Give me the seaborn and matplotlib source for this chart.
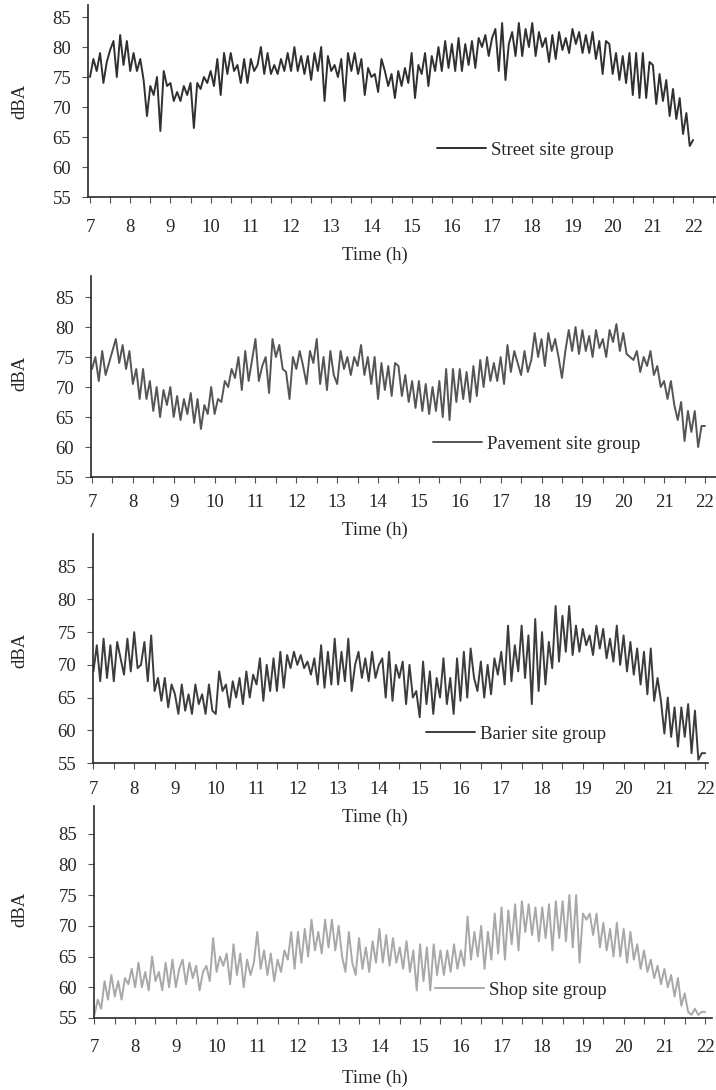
import numpy as np
import pandas as pd
import seaborn as sns
import matplotlib.pyplot as plt
from matplotlib.ticker import MultipleLocator

# Noise levels (dBA), every 5 minutes from 7:00 to 22:00
street = [
    75, 78, 76, 79, 74, 77.5, 79.5, 81, 75, 82, 77, 81,
    76, 79, 76, 78, 74.5, 68.5, 73.5, 72, 75, 66, 76, 73.5,
    74, 71, 72.5, 71, 73.5, 72, 74, 66.5, 74, 73, 75, 74,
    76, 73.5, 78, 72, 79, 75.5, 79, 76, 77, 74, 78, 74,
    78, 76, 77, 80, 75.5, 79, 75.5, 77, 75.5, 78, 76, 79,
    76, 80, 76, 78.5, 75.5, 78.5, 74.5, 79, 76, 80, 71, 78.5,
    76, 77, 75, 78, 71, 79, 76, 79, 75.5, 78, 72, 76.5,
    75, 75.5, 72.5, 78, 76, 73.5, 75.5, 71.5, 76, 73.5, 76.5, 74,
    79, 71.5, 77, 75.5, 79, 73.5, 78.5, 76, 80, 76, 81, 76.5,
    80.5, 76, 81.5, 76, 80.5, 77, 81, 76.5, 81.5, 80, 82, 78.5,
    81.5, 83, 76, 84, 74.5, 80.5, 82.5, 78.5, 84, 78.5, 83, 80,
    84, 78.5, 82.5, 80, 81.5, 77.5, 82, 78, 82.5, 79.5, 81.5, 79,
    83, 80.5, 82.5, 79, 82, 79, 82.5, 78, 81, 75.5, 81, 80.5,
    75.5, 79, 74.5, 78.5, 74, 79, 72, 79, 71.5, 79, 71.5, 77.5,
    77, 70.5, 75.5, 71, 74.5, 68.5, 73, 68, 71.5, 65.5, 69, 63.5,
    64.5,
]
pavement = [
    73, 75, 71, 76, 72, 74, 76, 78, 74, 77, 73, 76,
    70.5, 73, 68, 73, 68, 71, 66, 70, 65, 69.5, 67, 70,
    65, 68.5, 64.5, 68, 65.5, 69, 64, 68, 63, 67, 65.5, 70,
    65.5, 68, 67.5, 71, 70, 73, 71.5, 75, 69.5, 76, 71, 74.5,
    78, 71, 73.5, 75, 69, 78, 75, 77, 73, 72.5, 68, 75,
    73, 76, 73.5, 70.5, 76, 74, 78, 70.5, 75, 69.5, 76, 72,
    70.5, 76, 73, 75, 72, 75, 73.5, 77, 72, 75, 70.5, 75,
    68, 74, 69.5, 73.5, 68.5, 74, 73.5, 68.5, 72, 67.5, 71, 66.5,
    71, 66, 70.5, 65.5, 70, 66, 71, 65, 73, 64.5, 73, 67.5,
    73, 68, 72.5, 67.5, 73.5, 68.5, 74.5, 70, 75, 71, 74, 71,
    75, 70.5, 77, 72.5, 76, 74, 72, 76, 72.5, 74.5, 79, 75,
    78, 73.5, 79, 76, 78, 75, 71.5, 76, 79.5, 76, 80, 75.5,
    79.5, 76, 78.5, 75, 79.5, 76.5, 78, 75, 79.5, 77.5, 80.5, 76,
    79, 75.5, 75, 74.5, 76, 72.5, 75, 73.5, 76, 72, 73.5, 70,
    71, 68, 71, 67, 64.5, 67.5, 61, 66, 62.5, 66, 60, 63.5,
    63.5,
]
barier = [
    69, 73, 67.5, 74, 68, 73, 67.5, 73.5, 71, 68.5, 74, 69,
    75, 69.5, 70, 73.5, 67.5, 74.5, 66, 68, 64.5, 68, 63.5, 67,
    65.5, 62.5, 67, 63, 65.5, 62.5, 67, 64, 65.5, 62.5, 67, 63,
    62.5, 69, 66, 67, 63.5, 67.5, 65, 68, 64, 69, 65, 68.5,
    67, 71, 64.5, 70, 66, 71, 66, 72, 66.5, 71.5, 69.5, 72,
    70, 71.5, 69.5, 70.5, 68.5, 71, 67, 73, 66.5, 72, 67, 74,
    67, 72, 67.5, 74, 66, 70, 72, 68, 71, 67.5, 72, 68,
    70, 71, 65, 72, 64.5, 70, 68, 70.5, 64, 70, 65, 66,
    62, 70.5, 64, 69, 62.5, 68, 65, 71, 64, 68, 62.5, 71,
    64.5, 72, 65, 72.5, 68, 66, 70.5, 65, 70, 65.5, 71, 68.5,
    72, 67, 76, 67.5, 73, 69, 76, 68, 74.5, 64, 77, 66,
    75, 67, 73.5, 69.5, 79, 70.5, 77.5, 72, 79, 71.5, 76, 72,
    75.5, 73, 74.5, 71.5, 76, 72.5, 75.5, 71, 74, 70.5, 76, 70,
    74.5, 69, 73.5, 68.5, 72.5, 67, 72, 65.5, 72.5, 64.5, 68, 64.5,
    59.5, 65, 59, 63.5, 57.5, 63.5, 59, 64, 56.5, 63, 55.5, 56.5,
    56.5,
]
shop = [
    55.5, 58, 56.5, 61, 58, 62, 58.5, 61, 58, 61.5, 60.5, 63,
    60, 64, 60, 62.5, 59.5, 65, 61, 62.5, 59.5, 64, 60, 64.5,
    60, 63, 64.5, 60.5, 64, 61.5, 63.5, 59.5, 62.5, 63.5, 61, 68,
    62.5, 65, 63.5, 65.5, 60.5, 67, 62, 65.5, 60, 64.5, 62, 64,
    69, 63, 66, 62, 65.5, 61, 64.5, 62.5, 66, 64.5, 69, 63,
    69, 64, 69.5, 65, 71, 66, 69, 65.5, 71, 66.5, 71, 66,
    70, 65, 62.5, 69, 64, 62, 68, 63, 66.5, 62.5, 67.5, 64,
    69.5, 64, 68.5, 63.5, 68, 64, 66.5, 63, 67.5, 62.5, 66, 59.5,
    67, 61, 66.5, 59.5, 67, 62, 66, 62, 66, 62.5, 67, 63,
    66, 63.5, 71.5, 64.5, 69, 65, 70, 63, 69, 64.5, 72, 65.5,
    73, 64.5, 72.5, 67, 73.5, 66, 74, 69, 73.5, 68.5, 73, 67.5,
    73, 68, 73.5, 66, 74, 68, 74, 67.5, 75, 66.5, 75, 64,
    72, 71, 72, 68.5, 72, 66.5, 70.5, 66, 69.5, 65, 70.5, 65,
    69.5, 64, 69, 64.5, 67, 63, 66, 62.5, 64.5, 61.5, 63.5, 60.5,
    63, 60, 62, 58.5, 61.5, 57, 59, 56, 55.5, 56.5, 55.5, 56,
    56,
]

groups = ["Street site group", "Pavement site group", "Barier site group", "Shop site group"]
colors = ["#303030", "#555555", "#3c3c3c", "#a8a8a8"]
hours = list(range(7, 23))
dba_ticks = [55, 60, 65, 70, 75, 80, 85]

time_h = np.arange(len(street)) / 12 + 7

W, H = 716, 1090
sns.set_style("white")
plt.rcParams["font.family"] = ["Liberation Serif", "DejaVu Serif"]
plt.rcParams["font.size"] = 13.5

fig = plt.figure(figsize=(W / 100, H / 100), dpi=100)

# per panel: left, right, top, bottom (px), xlim, ylim top, legend anchor, xtick pad, label y
panels = [
    (88, 716, 5, 197, (6.95, 22.57), 87.0, (437, 150), 11.5, 255, 101),
    (91, 716, 276, 477, (6.976, 22.27), 88.5, (433, 444), 8.0, 530, 373),
    (93, 708, 534, 763, (6.99, 22.07), 90.0, (426, 734), 8.6, 817, 650),
    (94, 712, 806, 1018, (6.99, 22.17), 89.5, (435, 990), 10.8, 1078, 909),
]

for data, name, col, p in zip([street, pavement, barier, shop], groups, colors, panels):
    l, r, t, b, xl, ytop, leg, xpad, xly, yly = p
    ax = fig.add_axes([l / W, 1 - b / H, (r - l) / W, (b - t) / H])
    ax.patch.set_alpha(0)
    df = pd.DataFrame({"Time (h)": time_h, "dBA": data})
    sns.lineplot(data=df, x="Time (h)", y="dBA", ax=ax, color=col,
                 linewidth=1.4, label=name)
    ax.set_xlim(*xl)
    ax.set_ylim(55, ytop)
    ax.set_xticks(hours)
    ax.xaxis.set_minor_locator(MultipleLocator(0.5))
    ax.set_yticks(dba_ticks)
    sns.despine(ax=ax)
    for s in ["left", "bottom"]:
        ax.spines[s].set_color("#2a2a2a")
        ax.spines[s].set_linewidth(1.2)
    ax.tick_params(axis="x", which="both", direction="out", length=4, width=0.8,
                   color="#555555", bottom=True, pad=xpad, labelsize=13.5)
    ax.tick_params(axis="y", direction="out", length=4, width=0.8, color="#555555",
                   left=True, pad=8, labelsize=13.5)
    ax.set_xlabel("Time (h)", fontsize=13.5, va="center")
    ax.xaxis.set_label_coords(375 / W, 1 - xly / H, transform=fig.transFigure)
    ax.set_ylabel("dBA", fontsize=13.5, va="center")
    ax.yaxis.set_label_coords(20 / W, 1 - yly / H, transform=fig.transFigure)
    ax.legend(loc="center left", bbox_to_anchor=(leg[0] / W, 1 - leg[1] / H),
              bbox_transform=fig.transFigure, frameon=False, handlelength=2.6,
              handletextpad=0.3, borderpad=0, borderaxespad=0, fontsize=13.5)

fig.savefig("out.png", dpi=100)
